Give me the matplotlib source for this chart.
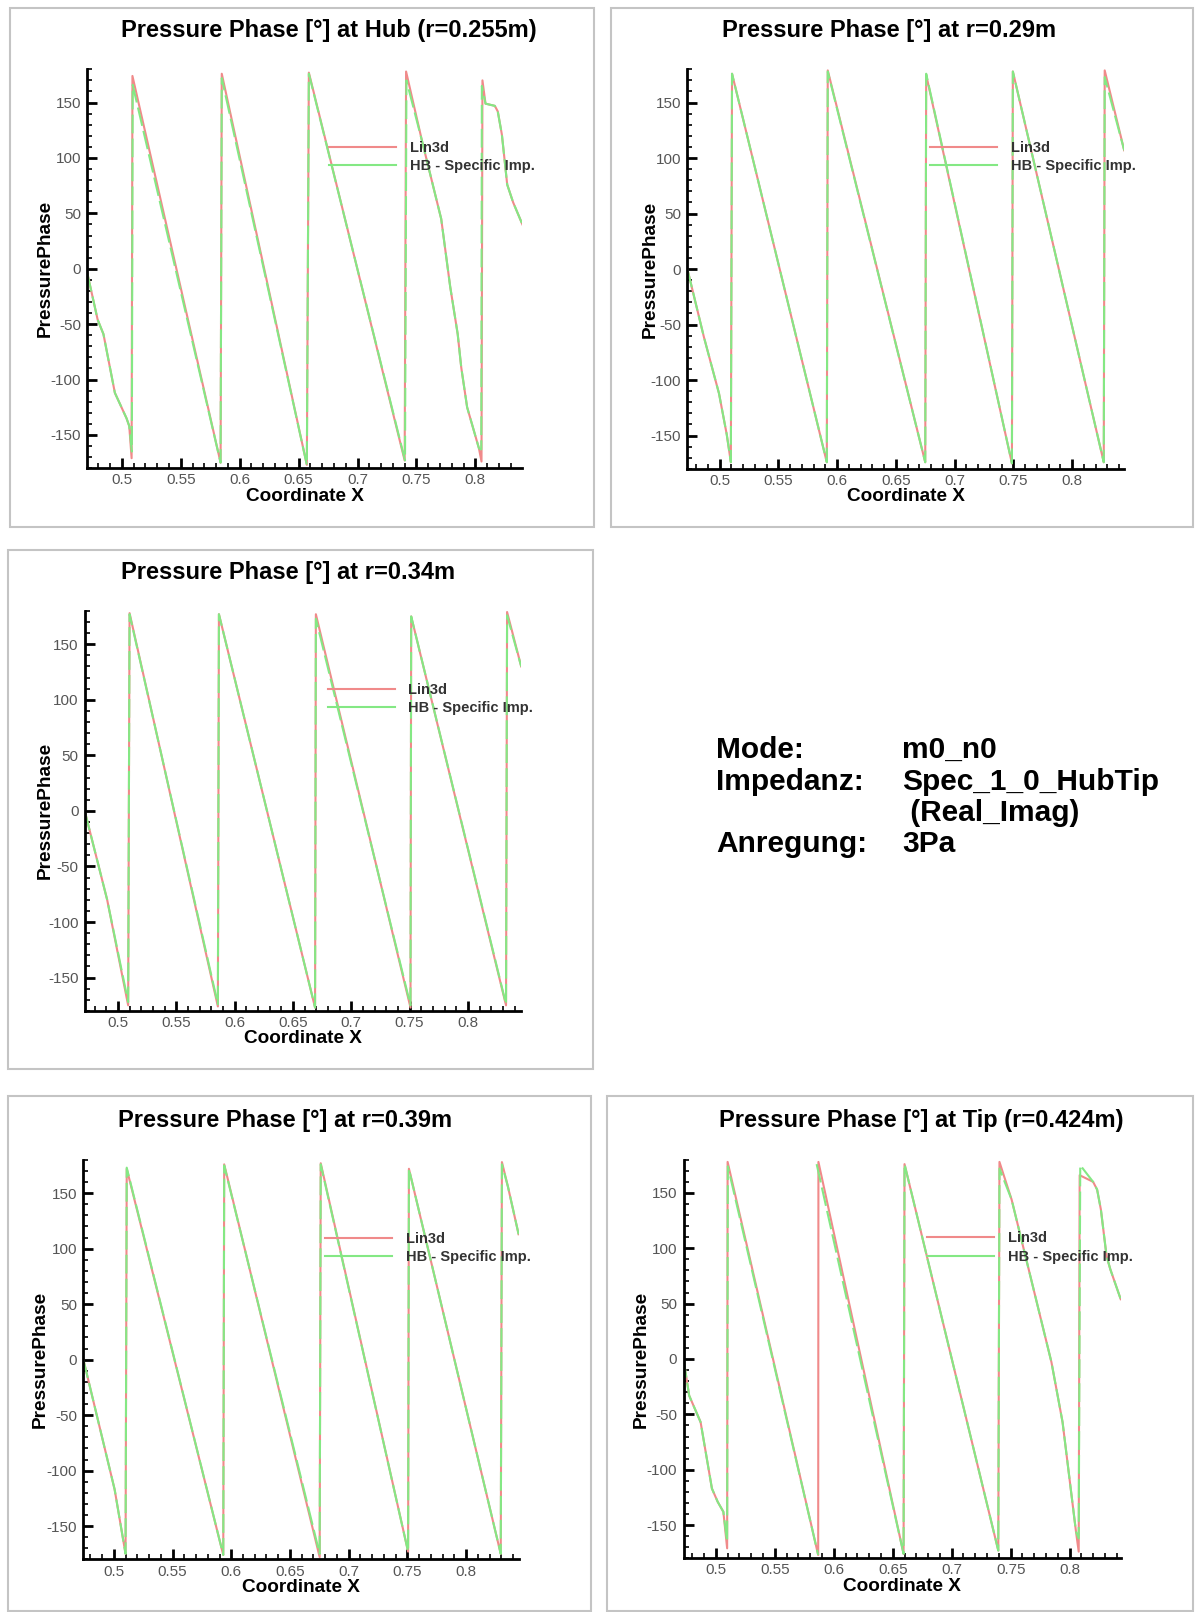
import numpy as np
import matplotlib
matplotlib.use("Agg")
import matplotlib.pyplot as plt
from matplotlib.patches import Rectangle
from matplotlib.ticker import MultipleLocator

plt.rcParams['font.family'] = ['Liberation Sans', 'DejaVu Sans']

# =========================
# DATA
# =========================
titles = ["Pressure Phase [\u00b0] at Hub (r=0.255m)",
          "Pressure Phase [\u00b0] at r=0.29m",
          "Pressure Phase [\u00b0] at r=0.34m",
          "Pressure Phase [\u00b0] at r=0.39m",
          "Pressure Phase [\u00b0] at Tip (r=0.424m)"]
legend_labels = ["Lin3d", "HB - Specific Imp."]

# Hub
x1_lin = [0.4707, 0.4795, 0.4844, 0.4941, 0.5040, 0.5063, 0.5083, 0.5090, 0.5838, 0.5848, 0.6570, 0.6587,
          0.7400, 0.7412, 0.7548, 0.7710, 0.7786, 0.7850, 0.7880, 0.7930, 0.8030, 0.8052, 0.8060, 0.8086,
          0.8165, 0.8190, 0.8225, 0.8270, 0.8320, 0.8399]
y1_lin = [-4, -46, -59, -112, -135, -142, -171, 174, -175, 176, -177, 177,
          -173, 178, 115, 45, -16, -59, -89, -125, -162, -174, 170, 149,
          147, 142, 121, 76, 60, 40]
x1_hb = [0.4707, 0.4795, 0.4844, 0.4941, 0.5040, 0.5063, 0.5085, 0.5092, 0.5838, 0.5848, 0.6570, 0.6587,
         0.7403, 0.7415, 0.7548, 0.7710, 0.7786, 0.7850, 0.7880, 0.7930, 0.8030, 0.8050, 0.8055, 0.8086,
         0.8165, 0.8190, 0.8225, 0.8270, 0.8320, 0.8399]
y1_hb = [-4, -46, -59, -112, -135, -142, -165, 166, -175, 172, -177, 176,
         -173, 170, 115, 45, -16, -59, -89, -125, -162, -163, 165, 149,
         147, 142, 121, 76, 60, 40]

# r=0.29m
x2 = [0.4725, 0.4865, 0.4994, 0.5060, 0.5095, 0.5105, 0.5912, 0.5920, 0.6750, 0.6758,
      0.7488, 0.7496, 0.8270, 0.8278, 0.8444]
y2_lin = [0, -61, -112, -149, -174, 176, -174, 179, -174, 175, -175, 178, -174, 179, 107]
y2_hb = [0, -61, -112, -149, -174, 176, -174, 178, -174, 176, -175, 178, -174, 173, 107]

# r=0.34m
x3 = [0.4718, 0.4908, 0.5088, 0.5100, 0.5857, 0.5866, 0.6690, 0.6697, 0.7508, 0.7514,
      0.8327, 0.8336, 0.8457]
y3_lin = [-1, -80, -175, 178, -176, 177, -177, 177, -177, 175, -175, 179, 130]
y3_hb = [-1, -80, -172, 177, -174, 177, -177, 173, -175, 175, -174, 176, 130]

# r=0.39m
x4 = [0.4741, 0.5007, 0.5100, 0.5110, 0.5932, 0.5940, 0.6753, 0.6762, 0.7506, 0.7513,
      0.8295, 0.8305, 0.8356, 0.8447]
y4_lin = [0, -117, -175, 172, -176, 176, -178, 177, -173, 172, -175, 178, 156, 113]
y4_hb = [0, -117, -175, 173, -176, 175, -175, 176, -173, 172, -175, 176, 156, 113]

# Tip
x5_lin = [0.4726, 0.4774, 0.4871, 0.4967, 0.5016, 0.5064, 0.5096, 0.5100, 0.5868, 0.5870,
          0.6592, 0.6600, 0.7395, 0.7405, 0.7508, 0.7846, 0.7940, 0.8054, 0.8077, 0.8085,
          0.8199, 0.8233, 0.8265, 0.8313, 0.8345, 0.8433]
y5_lin = [0, -33, -57, -117, -129, -138, -171, 178, -177, 178,
          -176, 176, -173, 178, 144, -3, -57, -156, -174, 166,
          160, 153, 135, 93, 81, 54]
x5_hb = [0.4726, 0.4774, 0.4871, 0.4967, 0.5016, 0.5064, 0.5096, 0.5102, 0.5868, np.nan,
         0.5855, 0.6592, 0.6600, 0.7395, 0.7405, 0.7508, 0.7846, 0.7940, 0.8054, 0.8077,
         0.8090, 0.8199, 0.8233, 0.8265, 0.8313, 0.8345, 0.8433]
y5_hb = [0, -33, -57, -117, -129, -138, -165, 174, -177, np.nan,
         176, -176, 176, -173, 172, 144, -3, -57, -156, -162,
         175, 160, 153, 135, 93, 81, 54]

info_keys = ["Mode:", "Impedanz:", "", "Anregung:"]
info_vals = ["m0_n0", "Spec_1_0_HubTip", " (Real_Imag)", "3Pa"]

series = [(x1_lin, y1_lin, x1_hb, y1_hb),
          (x2, y2_lin, x2, y2_hb),
          (x3, y3_lin, x3, y3_hb),
          (x4, y4_lin, x4, y4_hb),
          (x5_lin, y5_lin, x5_hb, y5_hb)]

# =========================
# LAYOUT (pixels of the 1195x1612 picture)
# =========================
W, H = 1195, 1612
axes_px = [(87.3, 69.3, 522.4, 468.2),
           (687.4, 69.3, 1124.2, 468.9),
           (85.0, 610.9, 521.2, 1010.9),
           (83.4, 1159.9, 518.6, 1559.4),
           (683.5, 1159.7, 1120.7, 1558.3)]
title_px = [(329, 30.4), (889, 30.4), (287.6, 572), (285, 1120), (921, 1120)]
ylab_x = [45.2, 650.1, 45.2, 40.2, 641.7]
frames_px = [(10.3, 8.2, 594.4, 526.5),
             (610.9, 8.2, 1192.5, 526.5),
             (8.2, 550.2, 593.4, 1068.5),
             (8.2, 1096.3, 591.3, 1611),
             (606.8, 1096.3, 1192.5, 1611)]

RED = '#f08a8a'
GREEN = '#84e884'

fig = plt.figure(figsize=(W / 100, H / 100), dpi=100)

for (fl, ft, fr, fb) in frames_px:
    fig.add_artist(Rectangle((fl / W, 1 - fb / H), (fr - fl) / W, (fb - ft) / H,
                             transform=fig.transFigure, fill=False,
                             edgecolor='#c4c4c4', lw=1.5))

for i, (l, t, r, b) in enumerate(axes_px):
    ax = fig.add_axes([l / W, 1 - b / H, (r - l) / W, (b - t) / H])
    xl, yl, xh, yh = series[i]
    ax.plot(xl, yl, color=RED, lw=1.5, label=legend_labels[0])
    ax.plot(xh, yh, color=GREEN, lw=1.5, dashes=(9, 2.5), label=legend_labels[1])

    ax.set_xlim(min(xl), max(xl))
    ax.set_ylim(-180, 180)
    ax.xaxis.set_major_locator(MultipleLocator(0.05))
    ax.xaxis.set_minor_locator(MultipleLocator(0.01))
    ax.yaxis.set_major_locator(MultipleLocator(50))
    ax.yaxis.set_minor_locator(MultipleLocator(10))
    ax.xaxis.set_major_formatter(plt.FuncFormatter(lambda v, p: f"{v:g}"))
    ax.yaxis.set_major_formatter(plt.FuncFormatter(lambda v, p: f"{v:g}"))

    for s in ['top', 'right']:
        ax.spines[s].set_visible(False)
    for s in ['left', 'bottom']:
        ax.spines[s].set_linewidth(2)
    ax.tick_params(which='major', direction='in', length=7.5, width=2, labelsize=11,
                   labelcolor='#555555')
    ax.tick_params(which='minor', direction='in', length=3.5, width=1.2)
    ax.tick_params(axis='y', which='major', pad=4.5)
    ax.tick_params(axis='x', which='major', pad=3.7)

    leg = ax.legend(loc='upper left', bbox_to_anchor=(0.556, 0.82), frameon=False,
                    borderpad=0, borderaxespad=0, handlelength=4.6, handletextpad=0.95,
                    labelspacing=0.29, prop={'size': 10.5, 'weight': 'bold'})
    for h in leg.get_lines():
        h.set_dashes((None, None))
        h.set_linestyle('-')
    for txt in leg.get_texts():
        txt.set_color('#333333')

    fig.text(title_px[i][0] / W, 1 - title_px[i][1] / H, titles[i],
             ha='center', va='center', fontsize=17, fontweight='bold')
    fig.text((l + r) / 2 / W, 1 - ((b + 28) / H), "Coordinate X",
             ha='center', va='center', fontsize=13.7, fontweight='bold')
    fig.text(ylab_x[i] / W, 1 - ((t + b) / 2) / H, "PressurePhase", rotation=90,
             ha='center', va='center', fontsize=13.7, fontweight='bold')

# info block
base_y = [758, 790, 821, 852]
for k, v, yb in zip(info_keys, info_vals, base_y):
    fig.text(716 / W, 1 - yb / H, k, ha='left', va='baseline', fontsize=21.5, fontweight='bold')
    fig.text(902 / W, 1 - yb / H, v, ha='left', va='baseline', fontsize=21.5, fontweight='bold')

fig.savefig('out.png', dpi=100)
